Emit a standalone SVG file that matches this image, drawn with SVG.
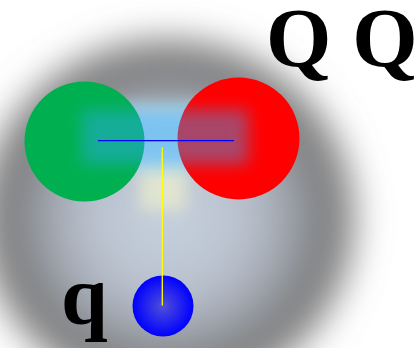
<svg xmlns="http://www.w3.org/2000/svg" width="420" height="348" viewBox="0 0 420 348">
<defs>
<style>
.lbl{font-family:"Liberation Serif","Times New Roman",serif;font-weight:bold;font-size:84px;fill:#000}
</style>
<radialGradient id="bg" cx="0.5" cy="0.5" r="0.5">
<stop offset="0" stop-color="#c8d2e0"/>
<stop offset="0.45" stop-color="#b8c0cc"/>
<stop offset="0.68" stop-color="#9a9ea6"/>
<stop offset="0.85" stop-color="#7a7a7a"/>
<stop offset="1" stop-color="#7e7e7e"/>
</radialGradient>
<radialGradient id="bq" cx="0.5" cy="0.5" r="0.5">
<stop offset="0" stop-color="#5050d8"/>
<stop offset="0.6" stop-color="#2020f0"/>
<stop offset="1" stop-color="#0000ff"/>
</radialGradient>
<filter id="blur" x="-0.5" y="-0.5" width="2" height="2"><feGaussianBlur stdDeviation="18"/></filter>
<filter id="glow" x="-0.5" y="-1" width="2" height="3"><feGaussianBlur stdDeviation="8"/></filter>
</defs>
<rect width="420" height="348" fill="#fff"/>
<ellipse cx="168" cy="218" rx="186" ry="178" fill="url(#bg)" filter="url(#blur)"/>
<rect x="140" y="160" width="46" height="50" fill="#eef0cc" opacity="0.7" filter="url(#glow)"/>
<rect x="120" y="104" width="90" height="66" fill="#b4dcec" opacity="0.9" filter="url(#glow)"/>
<g id="node-Q1"><circle cx="84.5" cy="141.5" r="60" fill="#00b050"/></g>
<g id="node-Q2"><circle cx="238.5" cy="138.5" r="61" fill="#ff0000"/></g>
<rect x="82" y="110" width="166" height="54" fill="#30a8fd" opacity="0.42" filter="url(#glow)"/>
<g id="node-q"><circle cx="163" cy="306" r="30.5" fill="url(#bq)"/></g>
<g id="connectors">
<line x1="98" y1="140.7" x2="234" y2="140.7" stroke="#0000ff" stroke-width="1.3"/>
<line x1="162.3" y1="147.5" x2="162.3" y2="305.5" stroke="#ffff00" stroke-width="1.3"/>
</g>
<g id="labels">
<text class="lbl" x="266" y="67">Q Q</text>
<text class="lbl" x="61" y="324">q</text>
</g>
</svg>
